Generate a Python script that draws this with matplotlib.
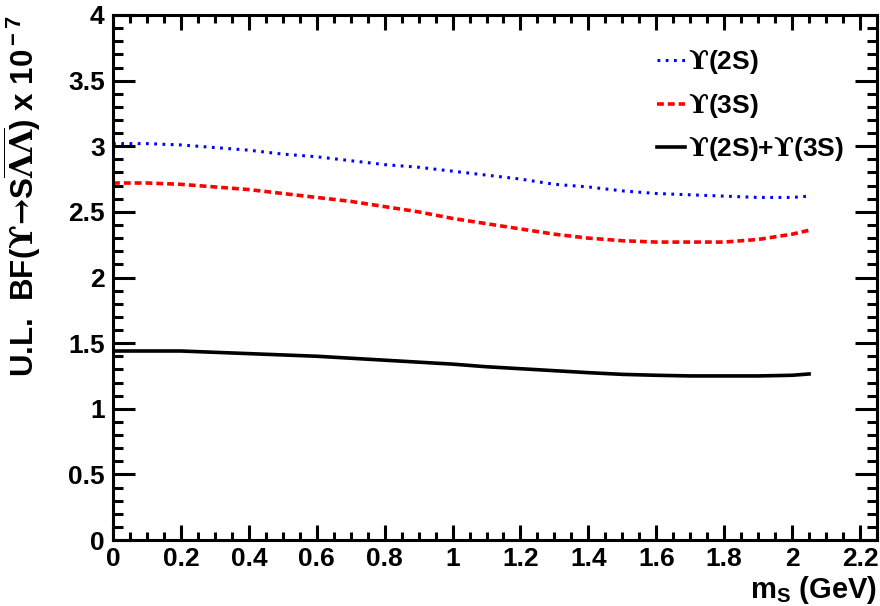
import matplotlib
matplotlib.use("Agg")
import matplotlib.pyplot as plt
from matplotlib.ticker import MultipleLocator

plt.rcParams['font.family'] = ['Liberation Sans', 'DejaVu Sans']
plt.rcParams['font.weight'] = 'bold'
plt.rcParams['mathtext.fontset'] = 'custom'
plt.rcParams['mathtext.rm'] = 'Liberation Sans:bold'
plt.rcParams['mathtext.it'] = 'Liberation Sans:bold'
plt.rcParams['mathtext.bf'] = 'Liberation Sans:bold'
plt.rcParams['mathtext.sf'] = 'DejaVu Serif'

# data
mass = [0.0, 0.1, 0.2, 0.3, 0.4, 0.5, 0.6, 0.7, 0.8, 0.9, 1.0, 1.1,
        1.2, 1.3, 1.4, 1.5, 1.6, 1.7, 1.8, 1.9, 2.0, 2.05]
ul_2s = [3.02, 3.02, 3.01, 2.99, 2.97, 2.94, 2.92, 2.89, 2.86, 2.84, 2.81, 2.78,
         2.75, 2.71, 2.69, 2.66, 2.64, 2.63, 2.62, 2.61, 2.61, 2.62]
ul_3s = [2.72, 2.72, 2.71, 2.69, 2.67, 2.64, 2.61, 2.58, 2.54, 2.50, 2.45, 2.41,
         2.37, 2.33, 2.30, 2.28, 2.27, 2.27, 2.27, 2.29, 2.33, 2.36]
ul_comb = [1.44, 1.44, 1.44, 1.43, 1.42, 1.41, 1.40, 1.385, 1.37, 1.355, 1.34, 1.32,
           1.305, 1.29, 1.275, 1.262, 1.255, 1.25, 1.25, 1.25, 1.255, 1.265]
labels = ['$\\mathsf{\u03d2}$(2S)', '$\\mathsf{\u03d2}$(3S)',
          '$\\mathsf{\u03d2}$(2S)+$\\mathsf{\u03d2}$(3S)']

fig = plt.figure(figsize=(8.8, 6.06), dpi=100)
ax = fig.add_axes([113/880, 66/606, 764/880, 525/606])

ax.plot(mass, ul_2s, color='#0000ff', lw=2.2, dashes=(0.9, 1.8),
        dash_capstyle='butt', label=labels[0])
ax.plot(mass, ul_3s, color='#ff0000', lw=2.6, dashes=(1.9, 1.1),
        dash_capstyle='butt', label=labels[1])
ax.plot(mass, ul_comb, color='black', lw=2.6, label=labels[2])

ax.set_xlim(0, 2.25)
ax.set_ylim(0, 4)
ax.xaxis.set_major_locator(MultipleLocator(0.2))
ax.xaxis.set_minor_locator(MultipleLocator(0.05))
ax.yaxis.set_major_locator(MultipleLocator(0.5))
ax.yaxis.set_minor_locator(MultipleLocator(0.1))
ax.xaxis.set_major_formatter(plt.FuncFormatter(lambda v, p: f"{v:g}"))
ax.yaxis.set_major_formatter(plt.FuncFormatter(lambda v, p: f"{v:g}"))

for s in ax.spines.values():
    s.set_linewidth(2.2)
ax.tick_params(axis='both', which='both', direction='in', top=True, right=True,
               width=2.2, labelsize=19)
ax.tick_params(axis='x', which='major', length=11, pad=5)
ax.tick_params(axis='x', which='minor', length=5.5)
ax.tick_params(axis='y', which='major', length=16, pad=6)
ax.tick_params(axis='y', which='minor', length=7.5)

ax.set_ylabel('U.L.  BF($\\mathsf{\u03d2}$$\\mathsf{\u2192}$S$\\overline{\\mathsf{\\Lambda\\Lambda}}$) x 10$^{\\rm -7}$',
              fontsize=22.5, fontweight='bold', loc='top')
ax.yaxis.set_label_coords(-0.091, 1.0)
ax.set_xlabel('m$_{\\rm S}$ (GeV)', fontsize=21, fontweight='bold', loc='right')
ax.xaxis.set_label_coords(1.0, -0.065)

leg = ax.legend(loc='upper left', bbox_to_anchor=(657/880, 0.922),
                bbox_transform=fig.transFigure, frameon=False, fontsize=19,
                handlelength=1.05, handletextpad=0.12, labelspacing=0.55,
                borderaxespad=0, borderpad=0)

fig.savefig('out.png', dpi=100)
